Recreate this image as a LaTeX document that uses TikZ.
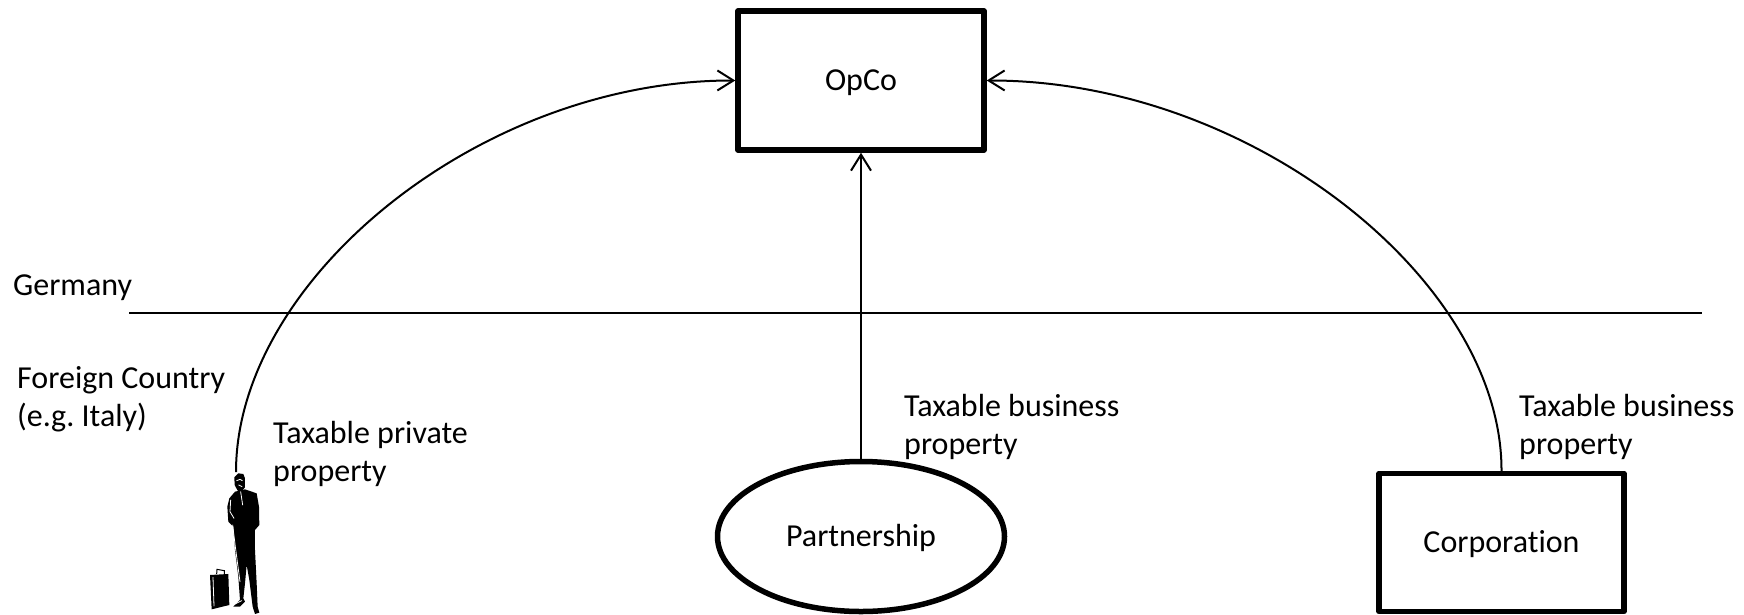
\documentclass[tikz,border=0pt]{standalone}
\usepackage{fontspec}
\setmainfont[Ligatures=NoCommon]{Carlito}
\usepackage{tikz}
\usetikzlibrary{arrows.meta,positioning,shapes}
\tikzstyle{entity}=[rectangle,draw=black,line width=5.5,line join=round,minimum width=246,minimum height=139,align=center,text height=24,text depth=4]
\tikzstyle{partner}=[ellipse,draw=black,line width=5.5,minimum width=287,minimum height=150,align=center,text height=24,text depth=4]
\tikzstyle{caption}=[inner sep=0,align=left,anchor=north west]
\tikzstyle{link}=[line width=2]
\tikzstyle{ink}=[fill=black,draw=none]
\tikzstyle{gap}=[draw=white,line width=.8,line cap=round,line join=round]

\begin{document}
\begin{tikzpicture}[x=1pt,y=-1pt,>={Straight Barb[length=16pt,width=20pt]},font=\fontsize{32}{38}\selectfont]
	\useasboundingbox (0,0) rectangle (1744,614);
	\node[entity]	(opco)		at (861,80.5)		{OpCo};
	\node[partner]	(partnership)	at (861,536.5)	{Partnership};
	\node[entity,minimum width=245,minimum height=138]	(corporation)	at (1501.5,542.5)	{Corporation};
	\coordinate	(traveller)	at (236,472);
	\coordinate	(borderwest)	at (129,313);
	\coordinate	(bordereast)	at (1702,313);

	\node[caption]	(germany)	at (13,275)		{Germany};
	\node[caption]	(foreign)	at (17,366)		{Foreign Country\\(e.g.\ Italy)};
	\node[caption]	(private)	at (273,421)	{Taxable private\\property};
	\node[caption]	(business)	at (904,394)	{Taxable business\\property};
	\node[caption]	(businesscorp)	[right=615 of business.west,anchor=west]	{Taxable business\\property};

	\draw[link]	(borderwest) -- (bordereast);
	\draw[link,->]	(partnership) -- (opco);
	\draw[link,->]	(traveller) .. controls (236,280) and (480,80) .. (opco.west);
	\draw[link,->]	(corporation.north) .. controls (1502,280) and (1250,80) .. (opco.east);

	% man with briefcase
	\begin{scope}[shift={(190,450)},x=.3333pt,y=-.3333pt]
		\fill[ink] (133,82) -- (145,70) -- (160,72) -- (165,85) -- (165,112) -- (155,124) -- (143,122) -- (134,105) -- cycle;
		\draw[gap] (140,92) -- (150,88) -- (157,92);
		\draw[gap] (146,105) -- (156,110);
		\fill[ink] (135,125) -- (165,118) -- (200,130) -- (207,170) -- (208,225) -- (195,240) -- (195,300) -- (200,400) -- (203,470) -- (208,488) -- (195,492) -- (188,470) -- (178,390) -- (170,345) -- (165,400) -- (160,445) -- (165,455) -- (150,470) -- (130,470) -- (150,450) -- (145,380) -- (135,300) -- (130,230) -- (115,215) -- (112,170) -- (118,145) -- cycle;
		\draw[gap] (128,225) -- (136,290) -- (150,395);
		\draw[gap] (152,125) -- (158,165);
		\draw[gap] (122,150) -- (120,185) -- (132,205);
		\draw[gap] (135,462) -- (155,452);
		\fill[ink] (60,375) -- (115,372) -- (118,465) -- (65,478) -- cycle;
		\draw[gap] (69,382) -- (72,468);
		\draw[black,line width=1] (80,372) -- (81,358) -- (103,362) -- (103,372);
	\end{scope}
\end{tikzpicture}
\end{document}
